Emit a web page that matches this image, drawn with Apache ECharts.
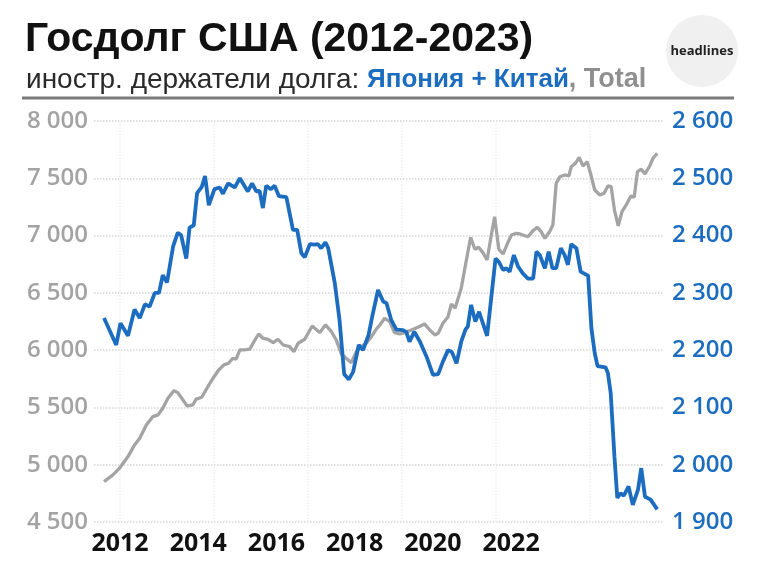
<!DOCTYPE html>
<html>
<head>
<meta charset="utf-8">
<script src="https://cdn.jsdelivr.net/npm/echarts@6/dist/echarts.min.js"></script>
<style>
  html, body { margin: 0; padding: 0; background: #fff; }
  #chart { width: 758px; height: 563px; }
</style>
</head>
<body>
<div id="chart"></div>
<script>
// Total, млрд $ (левая ось) — [год, значение]
const totalData = [
  [2011.66, 4853], [2011.85, 4911], [2011.99, 4970], [2012.17, 5071], [2012.31, 5173],
  [2012.42, 5231], [2012.56, 5347], [2012.70, 5420], [2012.81, 5435], [2012.91, 5493],
  [2013.02, 5580], [2013.15, 5647], [2013.23, 5629], [2013.34, 5565], [2013.43, 5513],
  [2013.55, 5522], [2013.62, 5572], [2013.74, 5589], [2013.87, 5682], [2013.98, 5755],
  [2014.10, 5827], [2014.21, 5871], [2014.31, 5886], [2014.40, 5929], [2014.47, 5921],
  [2014.55, 6002], [2014.65, 6002], [2014.76, 6008], [2014.85, 6074], [2014.95, 6141],
  [2015.04, 6104], [2015.15, 6095], [2015.26, 6065], [2015.36, 6095], [2015.47, 6045],
  [2015.61, 6031], [2015.70, 5987], [2015.79, 6060], [2015.93, 6095], [2016.09, 6211],
  [2016.25, 6153], [2016.37, 6220], [2016.50, 6161], [2016.60, 6089], [2016.71, 5967],
  [2016.81, 5929], [2016.92, 5891], [2017.03, 5987], [2017.13, 6031], [2017.24, 6060],
  [2017.35, 6118], [2017.45, 6182], [2017.53, 6220], [2017.63, 6278], [2017.74, 6249],
  [2017.84, 6153], [2017.95, 6141], [2018.06, 6153], [2018.20, 6176], [2018.34, 6200],
  [2018.48, 6229], [2018.59, 6176], [2018.70, 6133], [2018.77, 6147], [2018.87, 6235],
  [2018.98, 6292], [2019.05, 6403], [2019.13, 6366], [2019.26, 6540], [2019.37, 6787],
  [2019.46, 6985], [2019.55, 6880], [2019.63, 6898], [2019.72, 6851], [2019.81, 6787],
  [2019.90, 7005], [2019.97, 7165], [2020.06, 6880], [2020.15, 6839], [2020.26, 6947],
  [2020.33, 7005], [2020.43, 7020], [2020.51, 7014], [2020.57, 7005], [2020.68, 6990],
  [2020.79, 7043], [2020.88, 7072], [2020.96, 7034], [2021.04, 6976], [2021.14, 7034],
  [2021.21, 7092], [2021.28, 7456], [2021.36, 7514], [2021.46, 7529], [2021.55, 7520],
  [2021.60, 7601], [2021.69, 7631], [2021.77, 7683], [2021.85, 7607], [2021.94, 7645],
  [2022.01, 7544], [2022.10, 7398], [2022.21, 7354], [2022.30, 7369], [2022.38, 7433],
  [2022.45, 7427], [2022.52, 7223], [2022.60, 7084], [2022.68, 7209], [2022.77, 7267],
  [2022.87, 7346], [2022.94, 7334], [2023.01, 7558], [2023.09, 7579], [2023.17, 7538],
  [2023.27, 7607], [2023.34, 7675], [2023.43, 7718]
];

// Япония + Китай, млрд $ (правая ось)
const japanChinaData = [
  [2011.66, 2256], [2011.92, 2209], [2012.01, 2247], [2012.17, 2225], [2012.31, 2271],
  [2012.42, 2256], [2012.53, 2280], [2012.63, 2276], [2012.74, 2300], [2012.83, 2300],
  [2012.91, 2331], [2013.00, 2318], [2013.13, 2381], [2013.23, 2405], [2013.30, 2401],
  [2013.41, 2360], [2013.48, 2414], [2013.57, 2418], [2013.64, 2474], [2013.74, 2485],
  [2013.81, 2504], [2013.89, 2453], [2014.01, 2481], [2014.12, 2484], [2014.19, 2473],
  [2014.30, 2491], [2014.44, 2484], [2014.55, 2500], [2014.72, 2477], [2014.81, 2491],
  [2014.90, 2477], [2014.97, 2478], [2015.04, 2448], [2015.11, 2487], [2015.21, 2481],
  [2015.29, 2487], [2015.38, 2469], [2015.54, 2467], [2015.68, 2410], [2015.77, 2410],
  [2015.86, 2369], [2015.93, 2362], [2016.04, 2385], [2016.14, 2384], [2016.21, 2385],
  [2016.28, 2378], [2016.37, 2388], [2016.43, 2378], [2016.57, 2317], [2016.67, 2253],
  [2016.77, 2158], [2016.87, 2149], [2016.96, 2162], [2017.08, 2209], [2017.17, 2200],
  [2017.29, 2227], [2017.38, 2264], [2017.49, 2305], [2017.60, 2285], [2017.67, 2282],
  [2017.77, 2253], [2017.88, 2236], [2018.02, 2235], [2018.09, 2232], [2018.16, 2215],
  [2018.26, 2232], [2018.38, 2215], [2018.52, 2189], [2018.66, 2157], [2018.77, 2158],
  [2018.87, 2180], [2018.98, 2200], [2019.06, 2197], [2019.16, 2177], [2019.26, 2215],
  [2019.35, 2236], [2019.40, 2241], [2019.47, 2279], [2019.56, 2250], [2019.64, 2267],
  [2019.72, 2247], [2019.81, 2225], [2019.87, 2270], [2019.99, 2360], [2020.06, 2354],
  [2020.15, 2340], [2020.22, 2343], [2020.29, 2337], [2020.38, 2366], [2020.47, 2346],
  [2020.57, 2334], [2020.68, 2325], [2020.79, 2325], [2020.86, 2372], [2020.93, 2366],
  [2021.04, 2343], [2021.12, 2372], [2021.20, 2343], [2021.28, 2343], [2021.38, 2378],
  [2021.46, 2366], [2021.53, 2349], [2021.60, 2385], [2021.71, 2378], [2021.80, 2337],
  [2021.89, 2333], [2021.96, 2330], [2022.03, 2238], [2022.10, 2195], [2022.16, 2172],
  [2022.33, 2170], [2022.38, 2160], [2022.44, 2125], [2022.52, 2014], [2022.58, 1942],
  [2022.65, 1950], [2022.72, 1946], [2022.82, 1962], [2022.91, 1930], [2023.02, 1956],
  [2023.09, 1994], [2023.17, 1944], [2023.29, 1939], [2023.43, 1922]
];

const xLabelYears = [2012, 2014, 2016, 2018, 2020, 2022];
const gridYears = [2012, 2014, 2016, 2018, 2020, 2022];

const BLUE = '#1c6cbf';
const GREY = '#a4a4a4';

function spaced(v) {
  return String(v).replace(/\B(?=(\d{3})+(?!\d))/g, ' ');
}

const chart = echarts.init(document.getElementById('chart'));
chart.setOption({
  backgroundColor: '#ffffff',
  animation: false,
  title: [{
    text: 'Госдолг США (2012-2023)',
    left: 20,
    top: 14,
    textStyle: {
      fontFamily: 'Liberation Sans',
      fontWeight: 'bold',
      fontSize: 41,
      color: '#111111'
    }
  }, {
    text: '{a|иностр. держатели долга: }{b|Япония + Китай}{c|, Total}',
    left: 21,
    top: 61,
    textStyle: {
      rich: {
        a: { fontFamily: 'Liberation Sans', fontSize: 28, fontWeight: 'normal', color: '#2a2a2a' },
        b: { fontFamily: 'Liberation Sans', fontSize: 26, fontWeight: 'bold', color: BLUE },
        c: { fontFamily: 'Liberation Sans', fontSize: 27, fontWeight: 'bold', color: '#8f8f8f' }
      }
    }
  }],
  graphic: [{
    type: 'line',
    shape: { x1: 22, y1: 98, x2: 734, y2: 98 },
    style: { stroke: '#7a7a7a', lineWidth: 3 },
    silent: true
  }, {
    type: 'circle',
    shape: { cx: 702, cy: 51, r: 36 },
    style: { fill: '#f0f0f0' },
    silent: true
  }, {
    type: 'text',
    x: 702,
    y: 51,
    style: {
      text: 'headlines',
      fontFamily: 'Open Sans',
      fontWeight: 'bold',
      fontSize: 13,
      fill: '#222222',
      align: 'center',
      verticalAlign: 'middle'
    },
    silent: true
  }],
  grid: {
    left: 94,
    right: 94,
    top: 121,
    bottom: 41
  },
  xAxis: [{
    type: 'value',
    min: 2011.447,
    max: 2023.574,
    axisLine: { show: false },
    axisTick: { show: false },
    axisLabel: { show: false },
    splitLine: { show: false }
  }, {
    type: 'value',
    position: 'bottom',
    min: 2011.335,
    max: 2025.91,
    axisLine: { show: false },
    axisTick: { show: false },
    splitLine: { show: false },
    axisLabel: {
      customValues: xLabelYears,
      formatter: v => String(v),
      margin: 9,
      fontFamily: 'Open Sans',
      fontWeight: 'bold',
      fontSize: 25,
      color: '#111111'
    }
  }],
  yAxis: [{
    type: 'value',
    position: 'left',
    min: 4500,
    max: 8000,
    interval: 500,
    axisLine: { show: false },
    axisTick: { show: false },
    axisLabel: {
      formatter: spaced,
      margin: 6,
      fontFamily: 'Open Sans',
      fontWeight: 600,
      fontSize: 24,
      color: '#a3a3a3'
    },
    splitLine: {
      lineStyle: { color: '#d6d6d6', type: 'dotted', width: 1.5 }
    }
  }, {
    type: 'value',
    position: 'right',
    min: 1900,
    max: 2600,
    interval: 100,
    axisLine: { show: false },
    axisTick: { show: false },
    axisLabel: {
      formatter: spaced,
      margin: 8,
      fontFamily: 'Open Sans',
      fontWeight: 600,
      fontSize: 24,
      color: BLUE
    },
    splitLine: { show: false }
  }],
  series: [{
    // faint vertical guides behind the lines
    type: 'line',
    xAxisIndex: 0,
    yAxisIndex: 0,
    data: [],
    silent: true,
    z: 1,
    markLine: {
      silent: true,
      z: 1,
      symbol: 'none',
      label: { show: false },
      lineStyle: { color: '#eeeeee', type: 'dotted', width: 1.5 },
      data: gridYears.map(y => ({ xAxis: y }))
    }
  }, {
    name: 'Total',
    type: 'line',
    xAxisIndex: 0,
    yAxisIndex: 0,
    data: totalData,
    showSymbol: false,
    lineStyle: { color: GREY, width: 3.3 },
    z: 2
  }, {
    name: 'Япония + Китай',
    type: 'line',
    xAxisIndex: 0,
    yAxisIndex: 1,
    data: japanChinaData,
    showSymbol: false,
    lineStyle: { color: BLUE, width: 3.8 },
    z: 3
  }]
});
</script>
</body>
</html>
